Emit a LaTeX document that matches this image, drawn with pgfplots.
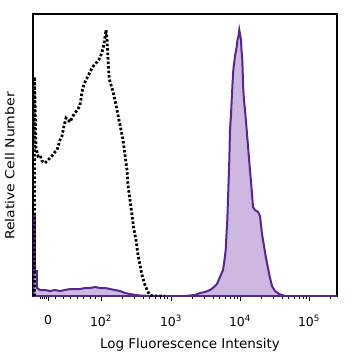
\documentclass[border=0pt]{standalone}
\usepackage{pgfplots}
\pgfplotsset{compat=1.18}
\usepackage{fontspec}
\setmainfont{DejaVu Sans}
\newfontfamily\ylabfont[FakeStretch=1.25]{DejaVu Sans Condensed}
\definecolor{purpline}{RGB}{86,40,138}
\definecolor{purpfill}{RGB}{204,184,224}
\begin{document}
\begin{tikzpicture}
\begin{axis}[
  scale only axis,
  width=304bp, height=282bp,
  xmin=33, xmax=337, ymin=0, ymax=282,
  axis line style={black, line width=1.1bp},
  xtick={48,101,171,240,309},
  xticklabels={0,10\textsuperscript{2},10\textsuperscript{3},10\textsuperscript{4},10\textsuperscript{5}},
  minor xtick={40,42,44,46,55,63,70,77,83,90,95,
    122.1,134.4,143.1,149.9,155.5,160.2,164.3,167.8,
    192.1,204.4,213.1,219.9,225.5,230.2,234.3,237.8,
    261.1,273.4,282.1,288.9,294.5,299.2,303.3,306.8,
    330.1},
  ytick=\empty,
  xtick pos=bottom,
  tick align=outside,
  major tick length=5bp, minor tick length=3bp,
  every tick/.style={black, line width=0.9bp},
  /pgf/number format/assume math mode=true,
  ticklabel style={font=\fontsize{12.5}{14}\selectfont},
  xticklabel style={yshift=-11bp},
  xlabel={Log Fluorescence Intensity},
  xlabel style={font=\fontsize{13.5}{15}\selectfont, yshift=-5bp, xshift=5bp},
  ylabel={Relative Cell Number},
  ylabel style={font=\ylabfont\fontsize{12.5}{14}\selectfont, yshift=10bp, xshift=-11bp},
  clip=true,
]
% purple filled histogram (stained)
\addplot[fill=purpfill, draw=purpline, line width=2bp] coordinates {
(33.5,0)(33.5,80)(35,80)(35,25)(37,25)(37,8)(40,6)(45,6)(50,5)(55,6)(60,5)(65,6)(70,7)(75,7)(80,7)(85,8)(90,8)(95,9)(100,8)(105,8)(110,7)(115,6)(120,5)(125,3)(130,2)(135,1)(140,0.5)(150,0)(185,0)(195,1)(200,3)(205,4)(210,6)(214,9)(217,12)(220,19)(223,26)(224.5,36)(225.7,46)(226.5,62)(227.3,76)(228.3,106)(229.3,136)(230,166)(231,181)(231.7,196)(232.5,212)(233.3,226)(235,240)(236.5,248)(237.5,256)(238.5,260)(239.3,266)(240,262)(241,256)(241.5,246)(242.3,236)(243.3,206)(244,196)(245,186)(246.7,166)(248.3,146)(250,126)(251.7,106)(253,89)(255,86)(258,84)(260,80)(262,62)(264,50)(266,38)(268,28)(270,18)(272,10)(275,5)(279,2)(285,0)(337,0)
} \closedcycle;
% black dashed histogram (control)
\addplot[black, line width=2.8bp, dash pattern=on 2.5bp off 2bp] coordinates {
(34.5,0)(34.5,219)(36,148)(38,140)(40,141)(42,135)(45,133)(48,136)(50,138)(52,140)(55,144)(57,146)(60,156)(62,160)(64,170)(66,178)(68,176)(70,174)(73,180)(75,183)(78,187)(80,191)(82,204)(84,212)(86,216)(89,222)(92,228)(95,232)(97,234)(100,238)(102,244)(104,252)(106,266)(107,258)(108,236)(109,220)(110,214)(112,208)(115,196)(117,186)(119,176)(121,166)(123,156)(125,141)(127,126)(128,111)(130,96)(132,81)(134,66)(136,56)(138,41)(140,31)(142,21)(145,11)(148,4)(150,1)(153,0)(165,0)
};
\end{axis}
\pgfresetboundingbox
\path (current axis.south west)+(-33bp,-62bp) rectangle ([shift={(21bp,14bp)}]current axis.north east);
\end{tikzpicture}
\end{document}
